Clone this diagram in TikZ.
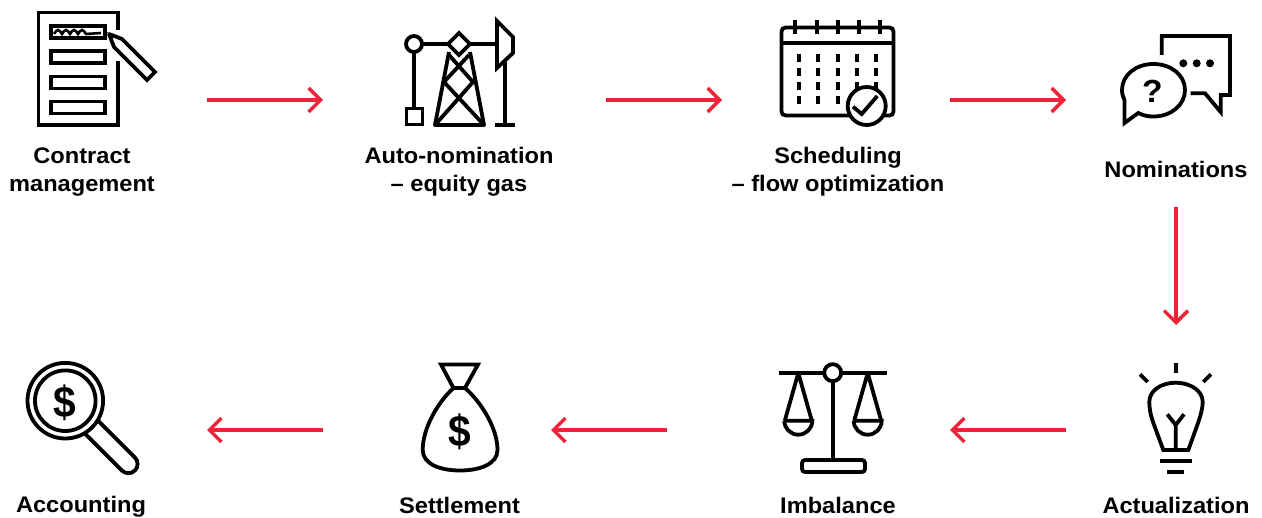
\documentclass[tikz,border=0pt]{standalone}
\usepackage{fontspec}
\setmainfont[FakeStretch=1.05]{Liberation Sans}
\usetikzlibrary{arrows.meta}
\definecolor{flowred}{HTML}{EE2339}
\begin{document}
\begin{tikzpicture}[x=1pt, y=-1pt, icon/.style={line width=3.8pt, black},
    slot/.style={inner sep=0pt, outer sep=0pt, minimum height=50pt},
    step label/.style={font=\fontsize{22.5}{28}\selectfont\bfseries, align=center, inner sep=0pt, outer sep=0pt},
    money/.style={font=\fontsize{44}{44}\selectfont\bfseries, inner sep=0pt, xscale=.88},
    flow/.style={line width=3.4pt, flowred, -{Straight Barb[length=12pt, width=24pt, line width=3.4pt]}}]

    \useasboundingbox (0,0) rectangle (1262,518);

    \node[slot, minimum width=122pt] at (97, 100) (contract) {};
    \node[slot, minimum width=113pt] at (459.5, 100) (autonom) {};
    \node[slot, minimum width=115pt] at (837.5, 100) (sched) {};
    \node[slot, minimum width=112pt] at (1176, 100) (nomin) {};
    \node[slot, minimum width=60pt, minimum height=86pt] at (1176, 430) (actual) {};
    \node[slot, minimum width=108pt] at (833, 430) (balance) {};
    \node[slot, minimum width=76pt] at (460, 430) (bag) {};
    \node[slot, minimum width=112pt] at (80, 430) (loupe) {};

    \node[step label] at (82, 172) (contract label) {Contract\\management};
    \node[step label] at (459, 172) (autonom label) {Auto-nomination\\– equity gas};
    \node[step label] at (838, 172) (sched label) {Scheduling\\– flow optimization};
    \node[step label] at (1176, 169) (nomin label) {Nominations};
    \node[step label] at (1176, 505) (actual label) {Actualization};
    \node[step label] at (838, 505) (balance label) {Imbalance};
    \node[step label] at (459.5, 505) (bag label) {Settlement};
    \node[step label] at (81, 507) (loupe label) {Accounting};

    \path[flow] (contract) edge[shorten <=49pt, shorten >=80pt] (autonom);
    \path[flow] (autonom) edge[shorten <=90pt, shorten >=58pt] (sched);
    \path[flow] (sched) edge[shorten <=55pt, shorten >=54pt] (nomin);
    \path[flow] (nomin label) edge[shorten <=30pt, shorten >=62pt] (actual);
    \path[flow] (actual) edge[shorten <=80pt, shorten >=63pt] (balance);
    \path[flow] (balance) edge[shorten <=112pt, shorten >=53pt] (bag);
    \path[flow] (bag) edge[shorten <=99pt, shorten >=71pt] (loupe);

    % contract
    \draw[icon] (118, 30) -- (118, 12.5) -- (38.5, 12.5) -- (38.5, 125) -- (118, 125) -- (118, 61);
    \draw[icon] (51, 26) rectangle (105, 38);
    \draw[icon] (51, 51) rectangle (105, 63);
    \draw[icon] (51, 76.5) rectangle (105, 88.5);
    \draw[icon] (51, 101.5) rectangle (105, 113.5);
    \draw[line width=2.6pt] (54, 34) sin (58, 30) cos (62, 34) sin (66, 30) cos (70, 34) sin (74, 30) cos (78, 34) sin (82, 30) cos (86, 34) -- (101, 33);
    \draw[icon, miter limit=2] (109, 34) -- (122, 39) -- (155, 72) -- (147, 80) -- (114, 47) -- cycle;
    \fill (107, 32) -- (115, 35.5) -- (110.5, 40) -- cycle;

    % auto-nomination
    \draw[icon] (414, 44) circle (8);
    \draw[icon] (422, 44) -- (448, 44) (470, 44) -- (497, 44);
    \draw[icon] (459, 33) -- (470, 44) -- (459, 55) -- (448, 44) -- cycle;
    \draw[icon] (414, 52) -- (414, 108);
    \draw[icon] (406.5, 108.5) rectangle (422.5, 124.5);
    \draw[icon, line join=round] (449, 52) -- (435, 125) -- (484, 125) -- (470, 52);
    \draw[icon] (435, 125) -- (473, 82) -- (449, 55);
    \draw[icon] (484, 125) -- (444, 82) -- (469, 55);
    \draw[icon] (497, 21) -- (513, 37) -- (513, 53) -- (497, 68) -- cycle;
    \draw[icon] (505, 62) -- (505, 125) (495, 125) -- (515, 125);

    % scheduling
    \draw[icon, rounded corners=4pt] (781.5, 27.5) rectangle (893.5, 115.5);
    \draw[icon] (781.5, 43) -- (893.5, 43);
    \foreach \ringx in {795, 816.7, 837.7, 859, 880}
        \draw[line width=4.4pt] (\ringx, 20) -- (\ringx, 34);
    \foreach \dotx in {799, 818.3, 837.7, 857, 876.3}
        \foreach \doty in {58.3, 72.3, 86.3, 100.3}
            \fill (\dotx-1.9, \doty-4) rectangle (\dotx+1.9, \doty+4);
    \draw[icon, fill=white] (866.7, 106) circle (19);
    \draw[icon] (853, 106.7) -- (861.7, 114) -- (877.3, 96);

    % nominations
    \draw[icon] (1161.7, 55) -- (1161.7, 36) -- (1230, 36) -- (1230, 95) -- (1220.7, 95) -- (1220.7, 112) -- (1205, 93.3) -- (1190.7, 93.3);
    \fill (1183.3, 63.3) circle (4) (1196.7, 63.3) circle (4) (1210, 63.3) circle (4);
    \draw[icon, miter limit=4] (1124.5, 100) -- (1124.5, 123) -- (1138.3, 113) .. controls (1144, 116) and (1149, 116.5) .. (1153.3, 116.5)
        .. controls (1171, 116.5) and (1185, 105) .. (1185, 90) .. controls (1185, 75) and (1171, 64) .. (1153.3, 64)
        .. controls (1136, 64) and (1122, 75) .. (1122, 90) .. controls (1122, 94) and (1123, 97) .. (1124.5, 100);
    \node[font=\fontsize{32}{32}\selectfont\bfseries, inner sep=0pt] at (1152.5, 91) (question) {?};

    % actualization
    \draw[icon] (1175.7, 362.7) -- (1175.7, 372.7);
    \draw[icon] (1140, 374.3) -- (1147.7, 382) (1211, 374.3) -- (1203.3, 382);
    \draw[icon] (1163.3, 450) -- (1153, 422) .. controls (1150, 413) and (1149.3, 407) .. (1149.3, 402) .. controls (1149.3, 390) and (1162, 382.7) .. (1175.7, 382.7)
        .. controls (1189.4, 382.7) and (1202.7, 390) .. (1202.7, 402) .. controls (1202.7, 407) and (1201.4, 413) .. (1198.4, 422) -- (1188.3, 450) -- cycle;
    \draw[icon] (1175.7, 450) -- (1175.7, 425) (1167.3, 414.3) -- (1175.7, 425) -- (1184, 414.3);
    \draw[icon] (1160, 461) -- (1191.7, 461) (1167.3, 471.7) -- (1184, 471.7);

    % imbalance
    \draw[icon] (779.3, 372.7) -- (824.2, 372.7) (841.2, 372.7) -- (886.7, 372.7);
    \draw[icon] (832.7, 372.7) circle (8.5);
    \draw[icon] (832.7, 381.2) -- (832.7, 460);
    \draw[icon, rounded corners=3pt] (802, 472) -- (802, 460) -- (865, 460) -- (865, 472) -- cycle;
    \foreach \panx in {798.3, 867.7} {
        \draw[icon, line join=round] (\panx-13.5, 420.7) -- (\panx, 373) -- (\panx+13.5, 420.7);
        \draw[icon] (\panx-14, 420.7) -- (\panx+14, 420.7) arc (0:180:14);
    }

    % settlement
    \draw[icon] (441, 364.5) -- (478, 364.5) -- (465, 388) -- (453.5, 388) -- cycle;
    \draw[icon] (453.5, 388) .. controls (438, 402) and (422.7, 428) .. (422.7, 450) .. controls (422.7, 464) and (440, 470.5) .. (460, 470.5)
        .. controls (480, 470.5) and (497.5, 464) .. (497.5, 450) .. controls (497.5, 428) and (481, 402) .. (465, 388);
    \node[money] at (459.5, 432) (bag dollar) {\$};

    % accounting
    \draw[icon] (98, 420.6) -- (134.9, 457.5) arc (-45:135:9.2) -- (85, 433.6);
    \draw[icon] (65.3, 400.7) circle (37.8);
    \draw[icon] (65.3, 400.7) circle (30.3);
    \node[money] at (65.3, 402.5) (loupe dollar) {\$};
\end{tikzpicture}
\end{document}
